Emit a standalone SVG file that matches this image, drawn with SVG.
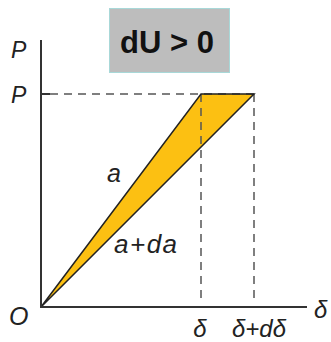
<svg xmlns="http://www.w3.org/2000/svg" width="331" height="342" viewBox="0 0 331 342">
<style>
.lbl{font-family:"Liberation Sans",Arial,sans-serif;font-style:italic;fill:#222;}
.dash{stroke:#555;stroke-width:1.5;stroke-dasharray:8 6;fill:none;}
.axis{stroke:#333;stroke-width:2;fill:none;}
.edge{stroke:#222;stroke-width:1.5;fill:none;}
</style>
<rect width="331" height="342" fill="#fff"/>
<g id="title">
<rect x="109.5" y="8.5" width="120" height="64" fill="#bdbdbd" stroke="#a8d8d8" stroke-width="1"/>
<text x="167" y="53" text-anchor="middle" font-family="Liberation Sans,Arial,sans-serif" font-weight="bold" font-size="31" fill="#111">dU &gt; 0</text>
</g>
<g id="area">
<polygon points="41,307 201,94 254,94" fill="#fcc012"/>
</g>
<g id="connectors">
<path class="dash" d="M50,94 H254"/>
<path class="dash" d="M201,94 V302"/>
<path class="dash" d="M254,94 V302"/>
<path class="edge" d="M41,307 L201,94 H254 L41,307"/>
<path class="axis" d="M41,40 V307 H307"/>
<path class="axis" d="M41,94 H50"/>
</g>
<g id="labels">
<text class="lbl" x="11" y="58" font-size="23">P</text>
<text class="lbl" x="11" y="103" font-size="23">P</text>
<text class="lbl" x="107" y="182" font-size="25">a</text>
<text class="lbl" x="114" y="253" font-size="26" letter-spacing="1.5">a+da</text>
<text class="lbl" x="9" y="325" font-size="25">O</text>
<text class="lbl" x="314" y="318" font-size="24">δ</text>
<text class="lbl" x="200" y="337" font-size="24" text-anchor="middle">δ</text>
<text class="lbl" x="259" y="337" font-size="24" text-anchor="middle">δ+dδ</text>
</g>
</svg>
